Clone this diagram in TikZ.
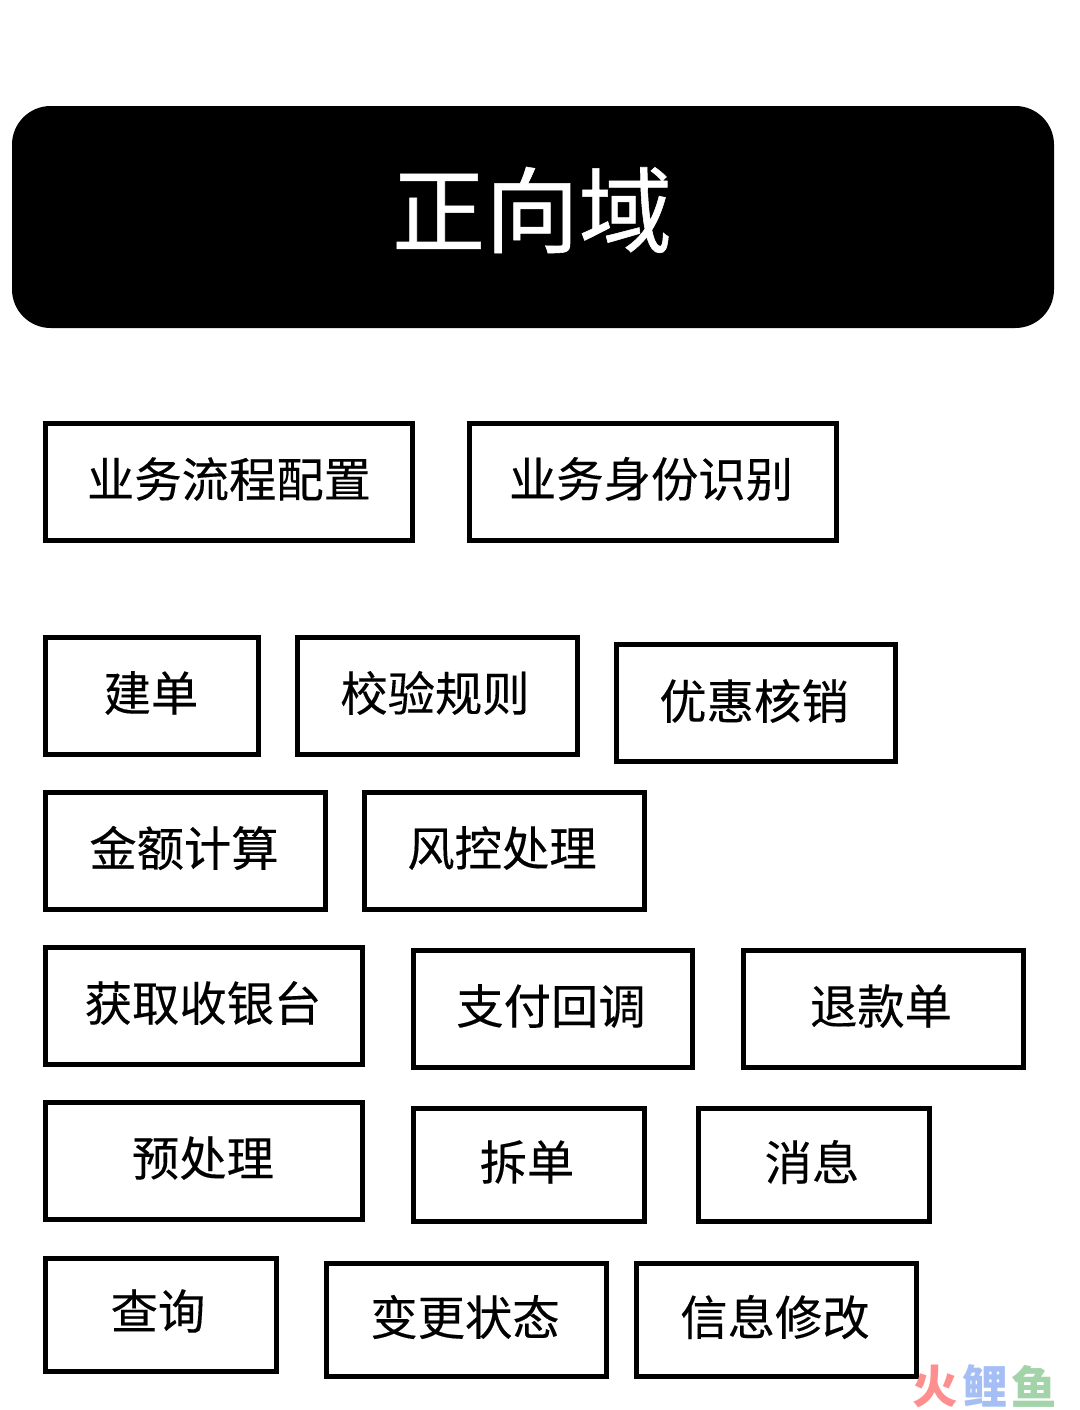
\documentclass[tikz,border=0pt]{standalone}
\usepackage{fontspec}
\setmainfont{Noto Sans CJK SC}
\newfontfamily\labfont[FakeBold=0.25]{Noto Sans CJK SC}
\newfontfamily\ttlfont[FakeBold=0.6]{Noto Sans CJK SC}
\newcommand{\pxbox}[7]{%
 \node[boxy,minimum width=#3*\pxu-2.25pt,minimum height=#4*\pxu-1.5pt] (#7) at ({(#1+#3/2)*\pxu},{-(#2+#4/2)*\pxu}) {};
 \node[lab,font=\labfont\fontsize{35.5}{42}\selectfont] (#7t) at ({#5*\pxu},{-(#6+1)*\pxu}) {\csname lbl#7\endcsname};}
\def\pxu{0.75pt}
\tikzset{boxy/.style={draw=black,line width=3.75pt,fill=white,rectangle,inner sep=0pt},lab/.style={inner sep=0pt,text=black},
 wmark/.style={inner sep=0pt,font=\fontsize{34}{40}\selectfont\bfseries}}
\def\lbla{业务流程配置}\def\lblb{业务身份识别}\def\lblc{建单}\def\lbld{校验规则}\def\lble{优惠核销}
\def\lblf{金额计算}\def\lblg{风控处理}\def\lblh{获取收银台}\def\lbli{支付回调}\def\lblj{退款单}
\def\lblk{预处理}\def\lbll{拆单}\def\lblm{消息}\def\lbln{查询}\def\lblo{变更状态}\def\lblp{信息修改}
\definecolor{wmred}{HTML}{FF8F8F}
\definecolor{wmblue}{HTML}{A5BFF5}
\definecolor{wmgreen}{HTML}{A3D3A8}
\begin{document}
\begin{tikzpicture}[x=0.75pt,y=-0.75pt]
\useasboundingbox (0,0) rectangle (1080,1410);
\fill[white] (0,0) rectangle (1080,1410);
\node[rectangle,rounded corners=29pt,fill=black,minimum width=1042*0.75pt,minimum height=222*0.75pt,inner sep=0pt] (head) at (533,217) {};
\node[text=white,font=\ttlfont\fontsize{70}{80}\selectfont,inner sep=0pt] (headt) at (532,210) {正向域};
\pxbox{44}{422}{370}{119}{229}{478}{a}
\pxbox{468}{422}{370}{119}{651}{478}{b}
\pxbox{44}{636}{216}{119}{151}{692}{c}
\pxbox{296}{636}{283}{119}{435}{692}{d}
\pxbox{615}{643}{282}{119}{754}{700}{e}
\pxbox{44}{791}{283}{119}{184}{847}{f}
\pxbox{363}{791}{283}{119}{502}{847}{g}
\pxbox{44}{946}{320}{119}{203}{1002}{h}
\pxbox{412}{949}{282}{119}{551}{1005}{i}
\pxbox{742}{949}{283}{119}{881}{1005}{j}
\pxbox{44}{1101}{320}{119}{203}{1157}{k}
\pxbox{412}{1107}{234}{115}{527}{1161}{l}
\pxbox{697}{1107}{234}{115}{812}{1161}{m}
\pxbox{44}{1257}{234}{115}{158}{1310}{n}
\pxbox{325}{1262}{283}{115}{465}{1316}{o}
\pxbox{635}{1262}{283}{115}{775}{1316}{p}
\node[wmark,text=wmred] (wm1) at (935,1386) {火};
\node[wmark,text=wmblue] (wm2) at (985,1386) {鲤};
\node[wmark,text=wmgreen] (wm3) at (1034,1386) {鱼};
\end{tikzpicture}
\end{document}
